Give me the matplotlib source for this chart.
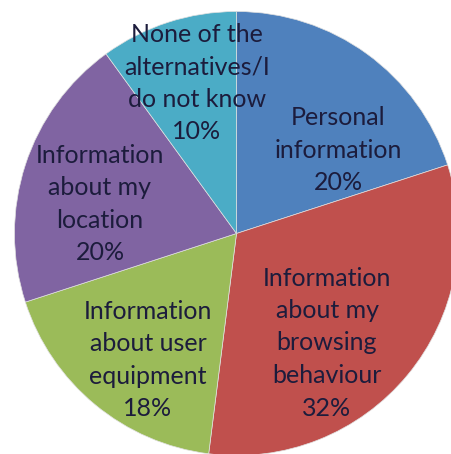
import numpy as np
import matplotlib
matplotlib.use('Agg')
import matplotlib.pyplot as plt


###===== DATA =====####
labels = ['Personal\ninformation', 'Information\nabout my\nbrowsing\nbehaviour',
          'Information\nabout user\nequipment', 'Information\nabout my\nlocation',
          'None of the\nalternatives/I\ndo not know']
shares = [20, 32, 18, 20, 10]
colors = ['#4f81bd', '#c0504d', '#9bbb59', '#8064a2', '#4bacc6']

# label centres in pixel coordinates (x, y from top)
labelPos = [(338, 150), (327, 343), (148, 360), (100, 204), (197, 83)]


###===== PLOT =====####
W, H = 451, 454
fig = plt.figure(figsize=(W / 100, H / 100), dpi=100)
ax = fig.add_axes([0, 0, 1, 1])

cx, cy, r = 236.5, H - 233.5, 222
ax.pie(shares, colors=colors, startangle=90, counterclock=False,
       center=(cx, cy), radius=r, wedgeprops=dict(linewidth=0.5, edgecolor='#e0e0e0'))

for lab, val, (x, y) in zip(labels, shares, labelPos):
    ax.text(x, H - y, '%s\n%d%%' % (lab, val), ha='center', va='center',
            fontsize=18, family='Lato', color='#1c1c3c', linespacing=1.5)

ax.set_xlim(0, W)
ax.set_ylim(0, H)
ax.set_aspect('equal')
ax.axis('off')

fig.savefig('out.png', dpi=100)
